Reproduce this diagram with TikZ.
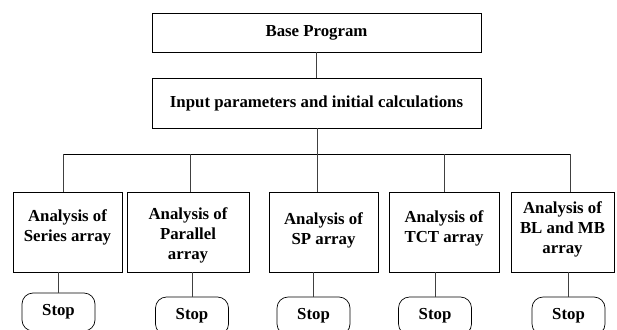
\documentclass[tikz,border=0pt]{standalone}
\usepackage{fontspec}
\setmainfont{Liberation Serif}
\newcommand{\mystrut}[1]{\rule{0pt}{#1pt}}
\newcommand{\mydepth}[1]{\rule[-#1pt]{0pt}{0pt}}
\begin{document}
\begin{tikzpicture}[x=1pt,y=-1pt,
  box/.style={draw=black, line width=0.9pt, align=center, inner sep=0pt,
    font=\fontsize{16.8}{20}\selectfont\bfseries},
  stopbox/.style={draw=black, line width=0.7pt, rounded corners=11pt, inner sep=0pt,
    minimum width=73pt, minimum height=38pt, font=\fontsize{16.8}{20}\selectfont\bfseries},
  conn/.style={draw=black!75, line width=1pt}]
\useasboundingbox (0,0) rectangle (617,329);
\clip (0,0) rectangle (617,329);
\node[box, minimum width=329pt, minimum height=39pt] (base) at (316.5,32.5) {Base Program};
\node[box, minimum width=329pt, minimum height=50pt] (input) at (316.5,103) {Input parameters and initial calculations};
\node[box, minimum width=109pt, minimum height=80pt] (b1) at (67.5,232) {Analysis of\\Series array\mydepth{12}};
\node[box, minimum width=122pt, minimum height=80pt] (b2) at (188,232) {\mystrut{18}Analysis of\\Parallel\\array};
\node[box, minimum width=109pt, minimum height=80pt] (b3) at (323.5,232) {Analysis of\\SP array\mydepth{6}};
\node[box, minimum width=110pt, minimum height=80pt] (b4) at (444,232) {Analysis of\\TCT array\mydepth{10}};
\node[box, minimum width=103pt, minimum height=80pt] (b5) at (562.5,232) {Analysis of\\BL and MB\\array\mydepth{8}};
\node[stopbox] (s1) at (58.5,312) {Stop};
\node[stopbox] (s2) at (192,316) {Stop};
\node[stopbox] (s3) at (313.5,316) {Stop};
\node[stopbox] (s4) at (435,316) {Stop};
\node[stopbox] (s5) at (568.5,316) {Stop};
\coordinate (bus) at (317,154);
\coordinate (j1) at (63,154);
\coordinate (j2) at (190,154);
\coordinate (j4) at (444,154);
\coordinate (j5) at (570,154);
\draw[conn] (base) -- (input);
\draw[conn] (input.south -| bus) -- (bus);
\draw[conn, draw=black] (j1) -- (j5);
\draw[conn] (j1) -- (j1 |- b1.north);
\draw[conn] (j2) -- (j2 |- b2.north);
\draw[conn] (bus) -- (bus |- b3.north);
\draw[conn] (j4) -- (j4 |- b4.north);
\draw[conn] (j5) -- (j5 |- b5.north);
\draw[conn] (s1.north) -- (s1.north |- b1.south);
\draw[conn] (s2.north) -- (s2.north |- b2.south);
\draw[conn] (s3.north) -- (s3.north |- b3.south);
\draw[conn] (s4.north) -- (s4.north |- b4.south);
\draw[conn] (s5.north) -- (s5.north |- b5.south);
\end{tikzpicture}
\end{document}
